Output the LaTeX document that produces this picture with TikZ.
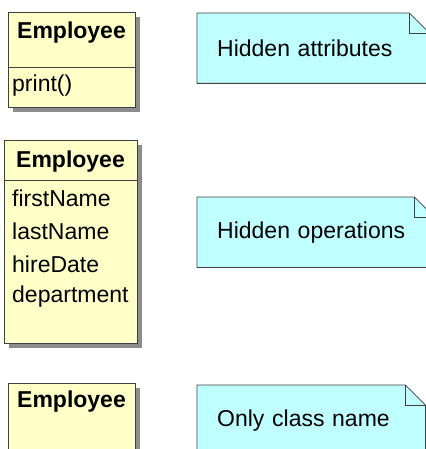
\documentclass[tikz,border=0pt]{standalone}
\usepackage{fontspec}
\setmainfont{Liberation Sans}
\usetikzlibrary{shadows, backgrounds}
\definecolor{classyellow}{RGB}{255,255,200}
\definecolor{notecyan}{RGB}{192,255,255}
\tikzstyle{classbox} = [rectangle, draw=black!75, line width=0.8pt, fill=classyellow, anchor=north west, minimum width=127pt, drop shadow={shadow xshift=5pt, shadow yshift=-5pt, fill=black!45, opacity=1}]
\tikzstyle{classname} = [font=\fontsize{23}{27}\selectfont\bfseries, inner sep=0pt]
\tikzstyle{member} = [font=\fontsize{23}{27}\selectfont, anchor=west, inner sep=0pt]
\tikzstyle{divider} = [draw=black!75, line width=0.8pt]
\tikzstyle{notebox} = [rectangle, anchor=north west, minimum height=70pt, inner xsep=20pt, align=left, font=\fontsize{23}{27}\selectfont]
\tikzstyle{notefill} = [draw=black!75, line width=0.8pt, fill=notecyan]
\tikzstyle{notefold} = [draw=black!75, line width=0.8pt]

\begin{document}
\begin{tikzpicture}[x=1pt, y=-1pt]
      \useasboundingbox (0,0) rectangle (425,449);

      % attributes hidden
      \node (emp1) [classbox, minimum height=95pt] at (8,12) {};
      \draw [divider] (emp1.north west) ++(0,55) -- ++(127,0);
      \node (emp1name) [classname] at (71.5,33) {Employee};
      \node (emp1print) [member] at (12,86) {print()};
      \node (hidattr) [notebox, text width=192pt] at (197,13) {Hidden attributes};

      % operations hidden
      \node (emp2) [classbox, minimum width=133pt, minimum height=203pt] at (4,140) {};
      \draw [divider] (emp2.north west) ++(0,40) -- ++(133,0);
      \node (emp2name) [classname] at (70.5,162) {Employee};
      \node (emp2first) [member] at (12,198) {firstName};
      \node (emp2last) [member] at (12,231) {lastName};
      \node (emp2hire) [member] at (12,264) {hireDate};
      \node (emp2dept) [member] at (12,297) {department};
      \node (hidops) [notebox, text width=197pt] at (197,197) {Hidden operations};

      % name only
      \node (emp3) [classbox, minimum height=90pt] at (8,383) {};
      \node (emp3name) [classname] at (71.5,402) {Employee};
      \node (onlyname) [notebox, text width=188pt] at (197,385) {Only class name};

      \begin{scope}[on background layer]
        \foreach \n in {hidattr, hidops, onlyname} {
          \filldraw [notefill] (\n.north west) -- ([xshift=-20pt]\n.north east) -- ([yshift=-20pt]\n.north east) -- (\n.south east) -- (\n.south west) -- cycle;
          \draw [notefold] ([xshift=-20pt]\n.north east) |- ([yshift=-20pt]\n.north east);
        }
      \end{scope}
    \end{tikzpicture}
\end{document}
